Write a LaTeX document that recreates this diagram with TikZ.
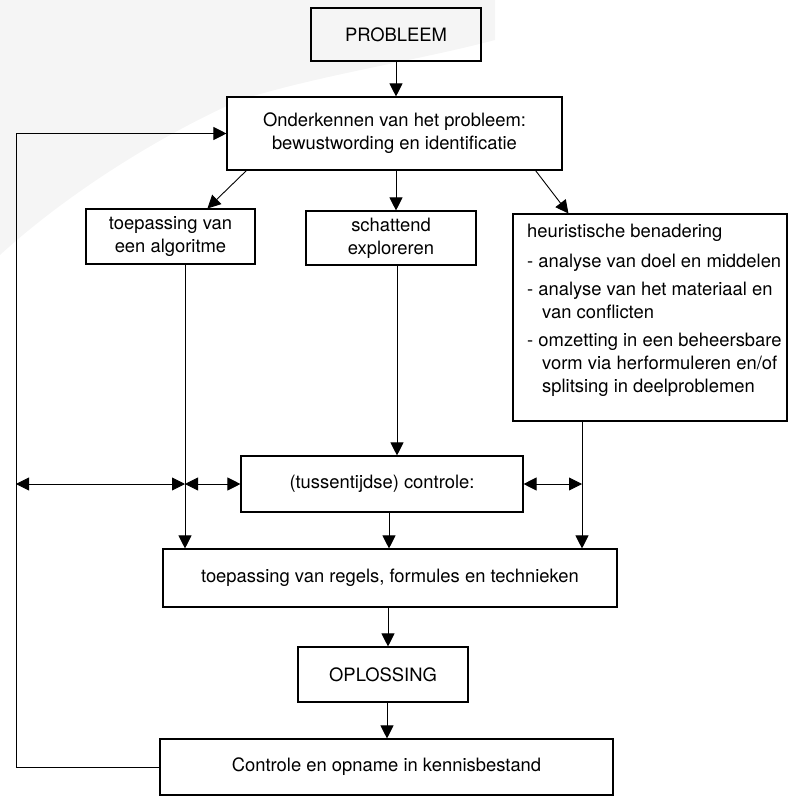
\documentclass[tikz,border=0pt]{standalone}
\usepackage{fontspec}
\setmainfont{TeX Gyre Heros}
\usetikzlibrary{arrows.meta, calc}

\begin{document}
\begin{tikzpicture}[x=1pt, y=-1pt,
  stap/.style={draw=black, line width=1.1pt, fill=white, align=center, inner sep=0pt, font=\fontsize{18.4}{23}\selectfont},
  lijst/.style={anchor=north west, align=left, inner sep=0pt, font=\fontsize{18.4}{23}\selectfont},
  pijl/.style={-{Triangle[length=13pt, width=13pt]}, line width=0.9pt},
  tweepijl/.style={{Triangle[length=13pt, width=13pt]}-{Triangle[length=13pt, width=13pt]}, line width=0.9pt}]
  \useasboundingbox (0,0) rectangle (788,800);
  % grijze vlek van de scan
  \fill[black!4] (0,0) -- (495,0) -- (495,40) .. controls (420,60) and (320,75) .. (240,100) .. controls (150,140) and (60,200) .. (0,255) -- cycle;
  \fill[black!4] (0,0) -- (420,0) .. controls (330,30) and (200,50) .. (120,100) .. controls (70,130) and (30,150) .. (0,170) -- cycle;

  \node[stap, fill=none, minimum width=170pt, minimum height=53pt] (probleem) at (396,34.5) {PROBLEEM};
  \node[stap, minimum width=335pt, minimum height=73pt] (onderkennen) at (394.5,133.5) {Onderkennen van het probleem:\\bewustwording en identificatie};
  \node[stap, minimum width=169pt, minimum height=55pt] (algoritme) at (170.5,236.5) {toepassing van\\een algoritme};
  \node[stap, minimum width=170pt, minimum height=54pt] (schatten) at (391,238) {schattend\\exploreren};
  \node[stap, minimum width=274pt, minimum height=207pt] (heuristiek) at (650,317.5) {};
  \node[lijst] (heurtekst) at (527,224) {heuristische benadering\\[7pt]
    - analyse van doel en middelen\\[5pt]
    - analyse van het materiaal en\\
    \hspace*{15pt}van conflicten\\[5pt]
    - omzetting in een beheersbare\\
    \hspace*{15pt}vorm via herformuleren en/of\\
    \hspace*{15pt}splitsing in deelproblemen};
  \node[stap, minimum width=282pt, minimum height=56pt] (tussen) at (382,484) {(tussentijdse) controle:};
  \node[stap, minimum width=454pt, minimum height=58pt] (regels) at (390,578) {toepassing van regels, formules en technieken};
  \node[stap, minimum width=170pt, minimum height=55pt] (oplossing) at (383,674.5) {OPLOSSING};
  \node[stap, minimum width=453pt, minimum height=56pt] (controle) at (386.5,767) {Controle en opname in kennisbestand};

  \coordinate (links) at (16,484);
  \coordinate (alglijn) at (185,484);
  \coordinate (heurlijn) at (582,484);

  \draw[pijl] (probleem.south) -- (probleem.south |- onderkennen.north);
  \draw[pijl] ([xshift=20pt]onderkennen.south west) -- ([xshift=122pt]algoritme.north west);
  \draw[pijl] ([xshift=1.5pt]onderkennen.south) -- ([xshift=1.5pt]onderkennen.south |- schatten.north);
  \draw[pijl] ([xshift=-27pt]onderkennen.south east) -- ([xshift=56pt]heuristiek.north west);
  \draw[pijl] (alglijn |- algoritme.south) -- (alglijn |- regels.north);
  \draw[pijl] ([xshift=6pt]schatten.south) -- ([xshift=6pt]schatten.south |- tussen.north);
  \draw[pijl] (heurlijn |- heuristiek.south) -- (heurlijn |- regels.north);
  \draw[pijl] ([xshift=7pt]tussen.south) -- ([xshift=7pt]tussen.south |- regels.north);
  \draw[pijl] ([xshift=-2pt]regels.south) -- ([xshift=-2pt]regels.south |- oplossing.north);
  \draw[pijl] ([xshift=4pt]oplossing.south) -- ([xshift=4pt]oplossing.south |- controle.north);
  \draw[pijl] (controle.west) -- (controle.west -| links) -- (links |- onderkennen.west) -- (onderkennen.west);

  \draw[tweepijl] (links) -- (alglijn);
  \draw[tweepijl] (alglijn) -- (tussen.west);
  \draw[tweepijl] (tussen.east) -- (heurlijn);
\end{tikzpicture}
\end{document}
